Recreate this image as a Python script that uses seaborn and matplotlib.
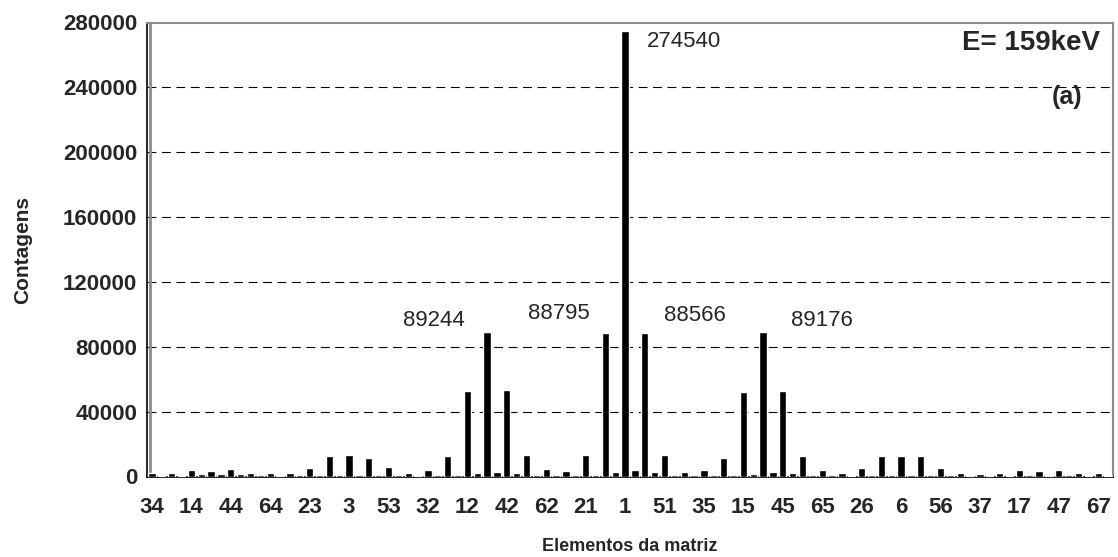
import numpy as np
import pandas as pd
import matplotlib
matplotlib.use("Agg")
import matplotlib.pyplot as plt
from matplotlib.ticker import FixedLocator
import seaborn as sns

# counts per matrix element (98 bars, left to right)
counts = [
    1900, 500, 1900, 500, 4200, 1500, 3100, 1500, 4400, 1500,
    2300, 800, 1900, 500, 2100, 800, 5400, 1000, 12900, 1000,
    13100, 1000, 11600, 1000, 5600, 1000, 2100, 500, 4200, 1000,
    12900, 1000, 52500, 1900, 89244, 2900, 53300, 1900, 13100, 1000,
    4400, 800, 3100, 1000, 13100, 800, 88795, 2700, 274540, 4200,
    88566, 2700, 13100, 800, 2900, 800, 4200, 1000, 11600, 800,
    52300, 1700, 89176, 2900, 52500, 1900, 12900, 800, 4200, 1000,
    2100, 300, 5200, 1000, 12900, 800, 12900, 800, 12900, 900,
    5200, 1000, 2100, 300, 1700, 300, 1900, 300, 4200, 1000,
    3100, 200, 4200, 1000, 1900, 300, 1900, 300,
]
# labels shown under every 4th bar
tick_labels = ["34", "14", "44", "64", "23", "3", "53", "32", "12", "42", "62", "21", "1",
               "51", "35", "15", "45", "65", "26", "6", "56", "37", "17", "47", "67"]
peak_labels = ["89244", "88795", "274540", "88566", "89176"]
peak_pos = [(28.6, 96000), (41.3, 100500), (54.0, 268000), (55.1, 99500), (68.0, 96000)]

df = pd.DataFrame({"elem": np.arange(len(counts)), "count": counts})

sns.set_style("white")
plt.rcParams["font.family"] = ["Liberation Sans", "DejaVu Sans"]

fig = plt.figure(figsize=(11.18, 5.57), dpi=100)
ax = fig.add_axes([147 / 1118, 1 - 476.5 / 557, 966 / 1118, 454 / 557])

sns.barplot(data=df, x="elem", y="count", color="black", width=0.74,
            saturation=1, ax=ax, zorder=3)

ax.set_xlim(-0.5, len(counts) - 0.5)
ax.set_ylim(0, 280000)
ax.set_yticks(np.arange(0, 280001, 40000))
ax.set_yticklabels([str(v) for v in range(0, 280001, 40000)], fontweight="bold", fontsize=16)

ax.set_xticks(np.arange(0, len(counts), 4))
ax.set_xticklabels(tick_labels, fontweight="bold", fontsize=16)
ax.xaxis.set_minor_locator(FixedLocator(np.arange(-0.5, len(counts), 1)))
ax.tick_params(axis="x", which="major", length=0, pad=15)
ax.tick_params(axis="x", which="minor", length=6, width=1, color="black", direction="out")
ax.tick_params(axis="y", length=5, width=1, color="black", direction="out", pad=2)

for v in range(40000, 280000, 40000):
    ax.axhline(v, color="black", lw=0.8, ls=(0, (8, 5)), zorder=1)

for s in ["left", "bottom"]:
    ax.spines[s].set_color("black")
    ax.spines[s].set_linewidth(1.2)
for s in ["top", "right"]:
    ax.spines[s].set_color("#8c8c8c")
    ax.spines[s].set_linewidth(1.5)
# grey plot-area border just inside the black value axis
ax.plot([0.0035, 0.0035], [0, 1], transform=ax.transAxes, color="#8c8c8c", lw=2, zorder=2)

ax.set_xlabel("Elementos da matriz", fontweight="bold", fontsize=13, labelpad=14)
ax.set_ylabel("Contagens", fontweight="bold", fontsize=15, labelpad=22)

for txt, (x, y) in zip(peak_labels, peak_pos):
    ax.text(x, y, txt, ha="center", va="center", fontsize=16)

ax.text(0.987, 0.955, "E= 159keV", transform=ax.transAxes, ha="right", va="center",
        fontsize=20, fontweight="bold")
ax.text(0.968, 0.836, "(a)", transform=ax.transAxes, ha="right", va="center",
        fontsize=18, fontweight="bold")

fig.savefig("out.png", dpi=100)
